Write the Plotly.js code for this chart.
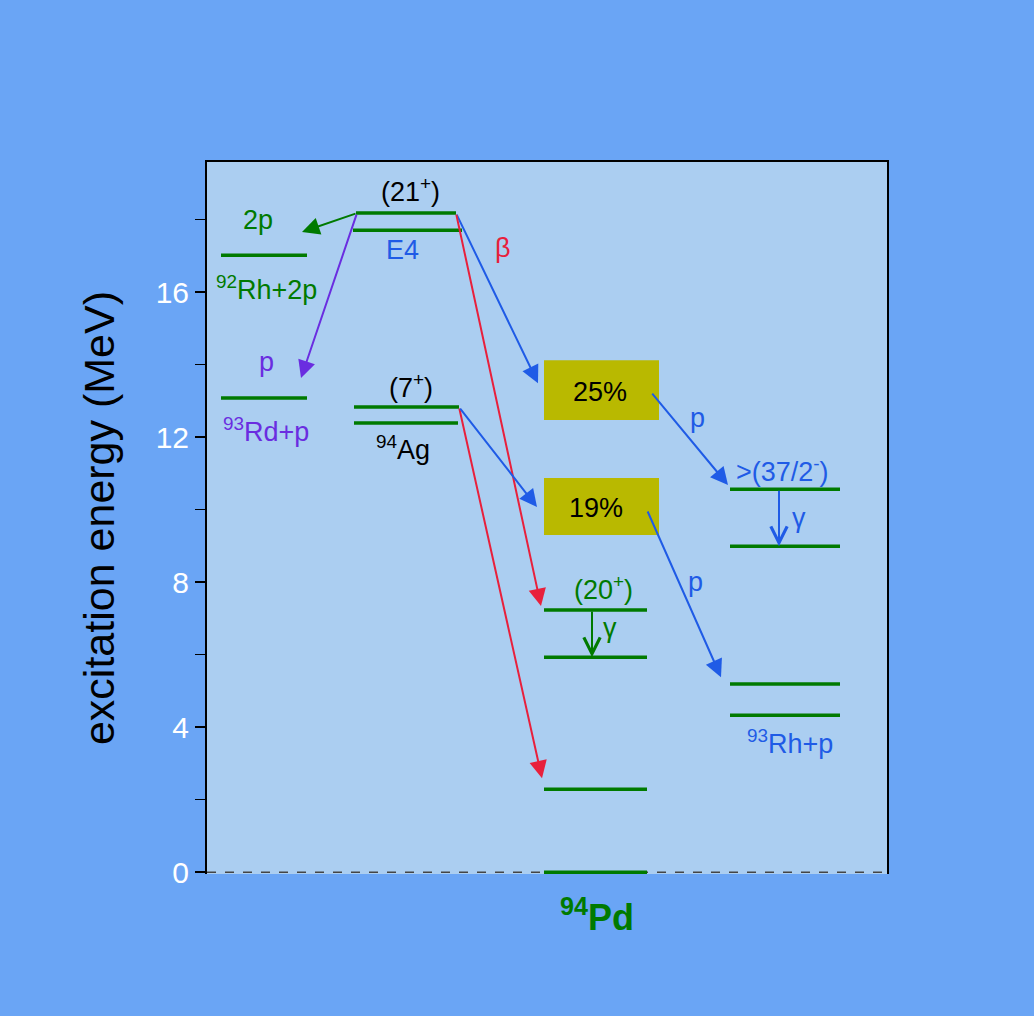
<!DOCTYPE html>
<html>
<head>
<meta charset="utf-8">
<script src="https://cdn.plot.ly/plotly-3.0.1.min.js"></script>
<style>html,body{margin:0;padding:0;background:#6aa5f5;}</style>
</head>
<body>
<div id="chart" style="width:1034px;height:1016px;"></div>
<script>
// ---- data (energies in MeV) ----
const rh2pLevels = [17.02];            // 92Rh + 2p threshold
const rdpLevels  = [13.08];            // 93Rd + p threshold
const ag21Levels = [18.18, 17.71];     // 94Ag (21+) isomer and E4 partner
const ag7Levels  = [12.83, 12.39];     // 94Ag (7+)
const pdLevels   = [7.23, 5.93, 2.29, 0]; // 94Pd levels
const rhpLevels  = [10.56, 8.99, 5.19, 4.33]; // 93Rh + p levels
const branchLabels = ['25%', '19%'];
const branchBoxE   = [[12.47, 14.12], [9.30, 10.87]];
const yTickVals = [0, 4, 8, 12, 16];
const yTickText = ['0', '4', '8', '12', '16'];

// ---- layout helpers (horizontal extents of level columns, abstract x units) ----
const colX = {
  rh2p: [[1.4, 10.0]],
  rdp:  [[1.4, 10.0]],
  ag21: [[14.9, 24.9], [14.6, 25.5]],
  ag7:  [[14.7, 25.2], [14.7, 25.1]],
  pd:   [[33.7, 44.0]],
  rhp:  [[52.3, 63.3]]
};

const GREEN = '#007a00', BLUE = '#1f5be6', PURPLE = '#6a2de0', RED = '#e8203c', BLACK = '#000';
const FONT = 'Liberation Sans, Arial, Helvetica, sans-serif';
const LBL = 27;

function levelTrace(levels, spans) {
  const x = [], y = [];
  levels.forEach((e, i) => {
    const s = spans[Math.min(i, spans.length - 1)];
    x.push(s[0], s[1], null);
    y.push(e, e, null);
  });
  return {type: 'scatter', mode: 'lines', x, y, hoverinfo: 'skip', showlegend: false,
          line: {color: GREEN, width: 3.5}};
}

const traces = [
  levelTrace(rh2pLevels, colX.rh2p),
  levelTrace(rdpLevels, colX.rdp),
  levelTrace(ag21Levels, colX.ag21),
  levelTrace(ag7Levels, colX.ag7),
  levelTrace(pdLevels, colX.pd),
  levelTrace(rhpLevels, colX.rhp)
];

function arrow(x0, y0, x1, y1, color, head) {
  return {xref: 'x', yref: 'y', axref: 'x', ayref: 'y', x: x1, y: y1, ax: x0, ay: y0,
          text: '', showarrow: true, arrowhead: head || 2, arrowsize: head ? 1.6 : 1.75, arrowwidth: 2,
          arrowcolor: color, standoff: 0, startstandoff: 0};
}
function label(x, y, text, color, size, extra) {
  return Object.assign({xref: 'x', yref: 'y', x, y, text, showarrow: false,
          font: {family: FONT, size: size || LBL, color}}, extra || {});
}

const annotations = [
  // decays of the (21+) isomer
  arrow(15.0, ag21Levels[0], 9.5, 17.66, GREEN),
  arrow(15.0, ag21Levels[0], 9.4, 13.63, PURPLE),
  arrow(24.9, ag21Levels[0], 33.1, 13.49, BLUE),
  arrow(24.9, ag21Levels[0], 33.4, 7.34, RED),
  // decays of the (7+) state
  arrow(25.2, ag7Levels[0], 33.5, 2.59, RED),
  arrow(25.2, ag7Levels[0], 33.0, 10.07, BLUE),
  // proton emission from 94Pd states
  arrow(44.4, 13.24, 52.1, 10.68, BLUE),
  arrow(44.0, 9.99, 51.4, 5.38, BLUE),
  // gamma transitions
  arrow(38.5, pdLevels[0], 38.5, pdLevels[1], GREEN, 5),
  arrow(57.2, rhpLevels[0], 57.2, rhpLevels[1], BLUE, 5),

  label(20.3, 18.81, '(21<sup>+</sup>)', BLACK),
  label(5.1, 17.99, '2p', GREEN),
  label(19.5, 17.16, 'E4', BLUE),
  label(29.6, 17.21, 'β', RED),
  label(5.9, 16.11, '<sup>92</sup>Rh+2p', GREEN),
  label(5.9, 14.07, 'p', PURPLE),
  label(5.9, 12.19, '<sup>93</sup>Rd+p', PURPLE),
  label(20.4, 13.41, '(7<sup>+</sup>)', BLACK),
  label(19.6, 11.70, '<sup>94</sup>Ag', BLACK),
  label(39.3, 13.24, branchLabels[0], BLACK),
  label(38.9, 10.04, branchLabels[1], BLACK),
  label(49.0, 12.52, 'p', BLUE),
  label(48.8, 8.00, 'p', BLUE),
  label(57.5, 11.09, '>(37/2<sup>-</sup>)', BLUE),
  label(59.2, 9.77, 'γ', BLUE),
  label(39.6, 7.83, '(20<sup>+</sup>)', GREEN),
  label(40.3, 6.73, 'γ', GREEN),
  label(58.3, 3.59, '<sup>93</sup>Rh+p', BLUE),
  label(39.0, -0.058, '<b><sup>94</sup>Pd</b>', GREEN, 36, {yref: 'paper', yanchor: 'middle', xanchor: 'center'})
];

const shapes = [
  {type: 'rect', xref: 'x', yref: 'y', x0: 33.7, x1: 45.2, y0: branchBoxE[0][0], y1: branchBoxE[0][1],
   fillcolor: '#b9b900', line: {width: 0}, layer: 'below'},
  {type: 'rect', xref: 'x', yref: 'y', x0: 33.7, x1: 45.2, y0: branchBoxE[1][0], y1: branchBoxE[1][1],
   fillcolor: '#b9b900', line: {width: 0}, layer: 'below'},
  {type: 'line', xref: 'paper', yref: 'y', x0: 0, x1: 1, y0: 0, y1: 0,
   line: {color: '#444', width: 1.5, dash: 'dash'}, layer: 'below'}
];

const layout = {
  width: 1034, height: 1016,
  paper_bgcolor: '#6aa5f5', plot_bgcolor: '#abcef1',
  margin: {l: 207, r: 147, t: 162, b: 142},
  showlegend: false,
  font: {family: FONT},
  xaxis: {range: [0, 68], side: 'top', showline: true, linecolor: '#000', linewidth: 2,
          showgrid: false, zeroline: false, showticklabels: false, ticks: '', fixedrange: true},
  yaxis: {range: [-0.05, 19.59], tickvals: yTickVals, ticktext: yTickText,
          ticks: 'outside', ticklen: 10, tickwidth: 1.5, tickcolor: '#000',
          minor: {dtick: 2, tick0: 0, ticks: 'outside', ticklen: 10, tickwidth: 1.5, tickcolor: '#000'},
          showline: true, mirror: true, linecolor: '#000', linewidth: 2,
          showgrid: false, zeroline: false,
          tickfont: {family: FONT, size: 30, color: '#fff'},
          title: {text: 'excitation energy (MeV)', font: {family: FONT, size: 43, color: '#000'}, standoff: 28}},
  shapes, annotations
};

Plotly.newPlot('chart', traces, layout, {displayModeBar: false, staticPlot: true});
</script>
</body>
</html>
